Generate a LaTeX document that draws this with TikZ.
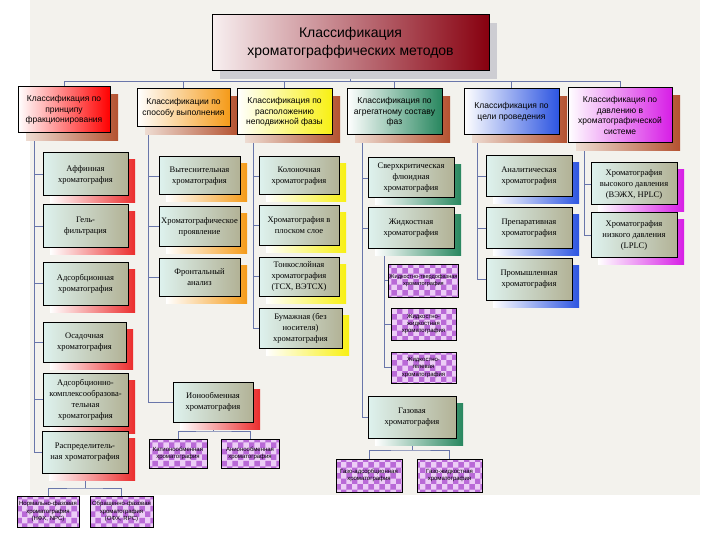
\documentclass[tikz,border=0pt]{standalone}
\usepackage{fontspec}
\setmainfont{Liberation Serif}
\setsansfont{Liberation Sans}
\usetikzlibrary{shadows,patterns,backgrounds}
\definecolor{cline}{RGB}{105,118,170}
\definecolor{cpanel}{RGB}{243,242,237}
\definecolor{ctitle}{RGB}{135,0,15}
\definecolor{ctshadow}{RGB}{205,205,210}
\definecolor{cbrown}{RGB}{180,82,48}
\definecolor{cbrownlt}{RGB}{238,220,210}
\definecolor{ckidl}{RGB}{222,242,238}
\definecolor{ckidr}{RGB}{178,178,150}
\definecolor{cred}{RGB}{235,45,45}
\definecolor{corange}{RGB}{245,155,25}
\definecolor{cyellow}{RGB}{248,240,20}
\definecolor{cgreen}{RGB}{40,135,95}
\definecolor{cblue}{RGB}{45,85,225}
\definecolor{cmagenta}{RGB}{215,30,230}
\definecolor{clilac}{RGB}{236,205,246}
\definecolor{cviolet}{RGB}{185,105,215}
\tikzset{
  wh/.style 2 args={minimum width=#1pt,minimum height=#2pt},
  conn/.style={draw=cline,line width=0.8pt},
  tbox/.style={draw=black,line width=1pt,left color=ctitle!6,right color=ctitle,
    font=\sffamily\fontsize{14}{18}\selectfont,align=center,inner sep=1pt,
    general shadow={shadow xshift=8pt,shadow yshift=-8pt,fill=ctshadow}},
  hbox/.style={draw=black,line width=1pt,left color=white,right color=#1,
    font=\sffamily\fontsize{8.5}{10.5}\selectfont,align=center,inner sep=1pt,
    general shadow={shadow xshift=8pt,shadow yshift=-8pt,left color=cbrownlt,right color=cbrown}},
  kbox/.style={draw=black,line width=1pt,left color=ckidl,right color=ckidr,
    font=\fontsize{8.5}{11}\selectfont,align=center,inner sep=1pt,
    general shadow={shadow xshift=7pt,shadow yshift=-7pt,left color=white,right color=#1}},
  pbox/.style={draw=black,line width=0.9pt,preaction={fill=clilac},pattern=checkerboard,
    pattern color=cviolet,font=\sffamily\fontsize{6}{7.3}\selectfont,align=center,inner sep=1pt},
}

\begin{document}
\begin{tikzpicture}[x=1pt,y=-1pt]
\useasboundingbox (0,0) rectangle (720,540);
% title and the six ways of classifying
\node[tbox,wh={277}{56}] (title) at (350.5,43) {Классификация\\хроматограффических методов};
\node[hbox=red,wh={92}{46}] (h1) at (64,110) {Классификация по\\принципу\\фракционирования};
\node[hbox=corange,wh={93}{38}] (h2) at (183.5,108) {Классификации по\\способу выполнения};
\node[hbox=cyellow,wh={95}{46}] (h3) at (284.5,112) {Классификация по\\расположению\\неподвижной фазы};
\node[hbox=cgreen,wh={95}{46}] (h4) at (394.5,112) {Классификация по\\агрегатному составу\\фаз};
\node[hbox=cblue,wh={95}{46}] (h5) at (511.5,112) {Классификация по\\цели проведения};
\node[hbox=cmagenta,wh={104}{55}] (h6) at (620,115.5) {Классификация по\\давлению в\\хроматографической\\системе};
% by principle
\node[kbox=cred,wh={85}{43}] (k1a) at (85.5,174.5) {Аффинная\\хроматография};
\node[kbox=cred,wh={85}{42}] (k1b) at (85.5,226) {Гель-\\фильтрация};
\node[kbox=cred,wh={85}{43}] (k1c) at (85.5,283.5) {Адсорбционная\\хроматография};
\node[kbox=cred,wh={83}{40}] (k1d) at (84.5,342) {Осадочная\\хроматография};
\node[kbox=cred,wh={85}{53}] (k1e) at (85.5,399.5) {Адсорбционно-\\комплексообразова-\\тельная\\хроматография};
\node[kbox=cred,wh={86}{42}] (k1f) at (85,452) {Распределитель-\\ная хроматография};
\node[pbox,wh={62}{31}] (p1a) at (48,511.5) {Нормально-фазовая\\хроматография\\(НФХ, NPC)};
\node[pbox,wh={63}{31}] (p1b) at (121.5,511.5) {Обращенно-фазовая\\хроматография\\(ОФХ, RPC)};
% by way of running
\node[kbox=corange,wh={81}{38}] (k2a) at (199.5,176) {Вытеснительная\\хроматография};
\node[kbox=corange,wh={81}{39}] (k2b) at (199.5,226.5) {Хроматографическое\\проявление};
\node[kbox=corange,wh={81}{38}] (k2c) at (199.5,277) {Фронтальный\\анализ};
\node[kbox=cred,wh={80}{40}] (ion) at (213,402) {Ионообменная\\хроматография};
\node[pbox,wh={58}{29}] (p2a) at (178,453.5) {Катионообменная\\хроматография};
\node[pbox,wh={58}{29}] (p2b) at (250,453.5) {Анионообменная\\хроматография};
% by stationary phase
\node[kbox=cyellow,wh={80}{38}] (k3a) at (299,176) {Колоночная\\хроматография};
\node[kbox=cyellow,wh={80}{39}] (k3b) at (299,225.5) {Хроматография в\\плоском слое};
\node[kbox=cyellow,wh={80}{39}] (k3c) at (299,276.5) {Тонкослойная\\хроматография\\(ТСХ, ВЭТСХ)};
\node[kbox=cyellow,wh={83}{40}] (k3d) at (300.5,328) {Бумажная (без\\носителя)\\хроматография};
% by phase state
\node[kbox=cgreen,wh={86}{40}] (k4a) at (411,178) {Сверхкритическая\\флюидная\\хроматография};
\node[kbox=cgreen,wh={86}{40}] (k4b) at (411,228) {Жидкостная\\хроматография};
\node[pbox,wh={65}{33},font=\sffamily\fontsize{5.6}{7.3}\selectfont] (p4a) at (423.5,280.5) {Жидкостно-твердофазная\\хроматография};
\node[pbox,wh={65}{32}] (p4b) at (423.5,324) {Жидкостно-\\жидкостная\\хроматография};
\node[pbox,wh={65}{31}] (p4c) at (423.5,367.5) {Жидкостно-\\гелевая\\хроматография};
\node[kbox=cgreen,wh={88}{42}] (k4c) at (412,417) {Газовая\\хроматография};
\node[pbox,wh={66}{33}] (p4d) at (369,475.5) {Газо-адсорбционная\\хроматография};
\node[pbox,wh={65}{33}] (p4e) at (449.5,475.5) {Газо-жидкостная\\хроматография};
% by purpose
\node[kbox=cblue,wh={86}{41}] (k5a) at (529,176.5) {Аналитическая\\хроматография};
\node[kbox=cblue,wh={86}{40}] (k5b) at (529,228) {Препаративная\\хроматография};
\node[kbox=cblue,wh={86}{42}] (k5c) at (529,279) {Промышленная\\хроматография};
% by pressure
\node[kbox=cmagenta,wh={86}{42}] (k6a) at (634,184) {Хроматография\\высокого давления\\(ВЭЖХ, HPLC)};
\node[kbox=cmagenta,wh={86}{44}] (k6b) at (634,235) {Хроматография\\низкого давления\\(LPLC)};
% trunks and buses
\coordinate (bus) at (0,81);
\coordinate (t1) at (34,0);
\coordinate (t2) at (148,0);
\coordinate (t3) at (253,0);
\coordinate (t4) at (362,0);
\coordinate (t4b) at (384,0);
\coordinate (t5) at (477,0);
\coordinate (t6) at (584,0);
\coordinate (ib) at (213,431);
\coordinate (gb) at (412,450);
\coordinate (db) at (85,488);
\begin{scope}[on background layer]
\fill[cpanel] (30,0) rectangle (700,495);
\draw[conn] (title.south) -- (title.south |- bus);
\draw[conn] (h1.north) -- (h1.north |- bus) -- (h6.north |- bus) -- (h6.north);
\foreach \h in {h2,h3,h4,h5}{
  \draw[conn] (\h.north) -- (\h.north |- bus);}
\draw[conn] (t1 |- h1.south) |- (k1f.west);
\foreach \k in {k1a,k1b,k1c,k1d,k1e}{
  \draw[conn] (t1 |- \k.west) -- (\k.west);}
\draw[conn] (k1f.south) -- (k1f.south |- db);
\draw[conn] (p1a.north) |- (db) -| (p1b.north);
\draw[conn] (t2 |- h2.south) |- (ion.west);
\foreach \k in {k2a,k2b,k2c}{
  \draw[conn] (t2 |- \k.west) -- (\k.west);}
\draw[conn] (ion.south) -- (ion.south |- ib);
\draw[conn] (p2a.north) |- (ib) -| (p2b.north);
\draw[conn] (t3 |- h3.south) |- (k3d.west);
\foreach \k in {k3a,k3b,k3c}{
  \draw[conn] (t3 |- \k.west) -- (\k.west);}
\draw[conn] (t4 |- h4.south) |- (k4c.west);
\foreach \k in {k4a,k4b}{
  \draw[conn] (t4 |- \k.west) -- (\k.west);}
\draw[conn] (t4b |- k4b.south) |- (p4c.west);
\foreach \k in {p4a,p4b}{
  \draw[conn] (t4b |- \k.west) -- (\k.west);}
\draw[conn] (k4c.south) -- (k4c.south |- gb);
\draw[conn] (p4d.north) |- (gb) -| (p4e.north);
\draw[conn] (t5 |- h5.south) |- (k5c.west);
\foreach \k in {k5a,k5b}{
  \draw[conn] (t5 |- \k.west) -- (\k.west);}
\draw[conn] (t6 |- h6.south) |- (k6b.west);
\draw[conn] (t6 |- k6a.west) -- (k6a.west);
\end{scope}
\end{tikzpicture}
\end{document}
